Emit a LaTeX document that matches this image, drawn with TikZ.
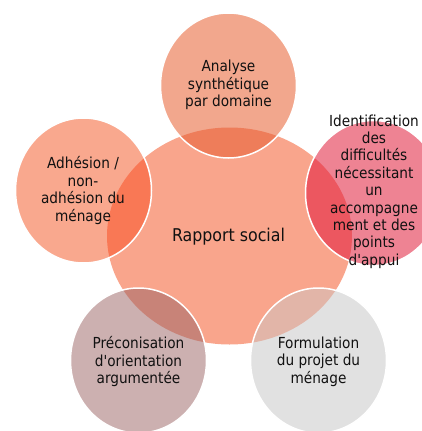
\documentclass[tikz,border=0pt]{standalone}
\usepackage{fontspec}
\setmainfont{DejaVu Sans Condensed}[Ligatures=TeXOff]
\usetikzlibrary{shapes.geometric}
\definecolor{cCenter}{HTML}{F9A58C}
\definecolor{cTop}{HTML}{F2A78D}
\definecolor{cTopO}{HTML}{EE7D5A}
\definecolor{cLeft}{HTML}{F9A88E}
\definecolor{cLeftO}{HTML}{F97855}
\definecolor{cRight}{HTML}{EE8393}
\definecolor{cRightO}{HTML}{EC5760}
\definecolor{cBL}{HTML}{CCB0B0}
\definecolor{cBLO}{HTML}{C88378}
\definecolor{cBR}{HTML}{E1E1E1}
\definecolor{cBRO}{HTML}{E2B5A8}
\definecolor{cText}{HTML}{111111}
\begin{document}
\begin{tikzpicture}[x=1pt,y=-1pt,
  blob/.style={ellipse, minimum width=136pt, minimum height=145pt, inner sep=0pt, draw=white, line width=1.5pt},
  overlap/.style={path picture={\fill[#1] (core.center) ellipse [x radius=122.5pt, y radius=108.5pt];}},
  lbl/.style={align=center, font=\fontsize{15.2}{17.4}\selectfont, text=cText, inner sep=0pt}]
\useasboundingbox (0,0) rectangle (422,431);
\clip (0,0) rectangle (422,431);
\node[ellipse, minimum width=245pt, minimum height=217pt, fill=cCenter, inner sep=0pt] (core) at (229.5,236) {};
\node[blob, fill=cTop, overlap=cTopO] (top) at (228.5,85.5) {};
\node[blob, fill=cLeft, overlap=cLeftO] (left) at (83.5,190.5) {};
\node[blob, fill=cRight, overlap=cRightO] (right) at (373.5,193) {};
\node[blob, fill=cBL, overlap=cBLO] (bl) at (138.5,360.5) {};
\node[blob, fill=cBR, overlap=cBRO] (br) at (318.5,360.5) {};
\node[lbl, font=\fontsize{17.6}{20}\selectfont] (tcore) at (228.5,237) {Rapport social};
\node[lbl] (ttop) at (228.5,85) {Analyse\\synthétique\\par domaine};
\node[lbl] (tleft) at (83,190.5) {Adhésion /\\non-\\adhésion du\\ménage};
\node[lbl] (tright) at (374,191.5) {Identification\\des\\difficultés\\nécessitant\\un\\accompagne\\ment et des\\points\\d'appui};
\node[lbl] (tbl) at (138.5,361.5) {Préconisation\\d'orientation\\argumentée};
\node[lbl] (tbr) at (318.5,361.5) {Formulation\\du projet du\\ménage};
\end{tikzpicture}
\end{document}
